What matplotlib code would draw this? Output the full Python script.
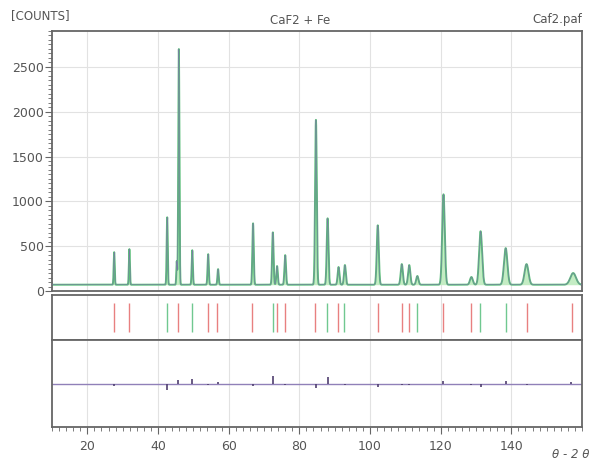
import numpy as np
import matplotlib
matplotlib.use("Agg")
import matplotlib.pyplot as plt
from matplotlib.ticker import MultipleLocator

peak_pos = [27.6, 31.9, 42.6, 45.3, 45.9, 49.7, 54.2, 57.0, 66.9, 72.5, 73.7, 76.0,
            84.7, 88.0, 91.1, 92.9, 102.2, 109.0, 111.1, 113.4, 120.8, 128.7,
            131.3, 138.4, 144.3, 157.5]
peak_counts = [433, 467, 822, 330, 2700, 455, 411, 244, 755, 655, 278, 400,
               1911, 811, 267, 289, 733, 300, 289, 167, 1078, 156,
               667, 478, 300, 200]
peak_width = [0.14, 0.14, 0.15, 0.12, 0.16, 0.16, 0.17, 0.17, 0.19, 0.2, 0.2, 0.21,
              0.23, 0.24, 0.25, 0.25, 0.28, 0.3, 0.31, 0.32, 0.36, 0.4,
              0.42, 0.48, 0.55, 0.8]
background = 70

# reflection markers
caf2_ticks = [27.5, 31.9, 45.7, 54.2, 56.8, 66.7, 73.8, 76.0, 84.5, 90.9, 102.2,
              109.0, 111.0, 120.8, 128.7, 144.3, 157.3]
fe_ticks = [42.6, 49.5, 72.6, 87.8, 92.6, 113.3, 131.0, 138.4]

# difference curve blips
diff_pos = [27.6, 42.6, 45.7, 49.7, 54.2, 57.0, 66.9, 72.5, 76.0, 84.7, 88.0,
            92.9, 102.2, 109.0, 111.1, 120.8, 128.7, 131.3, 138.4, 144.3, 157.0]
diff_val = [-6, -14, 8, 10, -4, 3, -5, 18, -3, -10, 14,
            -4, -8, -3, -3, 6, -4, -9, 5, -4, 4]

xticks = [20, 40, 60, 80, 100, 120, 140]

plt.rcParams['font.family'] = ['Liberation Sans Narrow', 'DejaVu Sans']
txt = '#555555'
frame = '#666666'

tt = np.linspace(10, 160, 6000)
calc = np.full_like(tt, background, dtype=float)
for p, h, w in zip(peak_pos, peak_counts, peak_width):
    calc += (h - background) * np.exp(-0.5 * ((tt - p) / w) ** 2)

fig = plt.figure(figsize=(6, 4.63), dpi=100)
W, H = 600, 463


def box(x0, y0, x1, y1):
    return [x0 / W, 1 - y1 / H, (x1 - x0) / W, (y1 - y0) / H]


ax = fig.add_axes(box(52, 31, 582, 291))
axt = fig.add_axes(box(52, 295, 582, 340))
axd = fig.add_axes(box(52, 340, 582, 427))

for a in (ax, axt, axd):
    a.set_xlim(10, 160)
    for s in a.spines.values():
        s.set_color(frame)
        s.set_linewidth(1.3)
    a.set_xticks(xticks)
    for x in xticks:
        a.axvline(x, color='#e2e2e2', lw=0.8, zorder=0)

# main pattern
ax.set_ylim(0, 2900)
for y in range(500, 2600, 500):
    ax.axhline(y, color='#e2e2e2', lw=0.8, zorder=0)
ax.fill_between(tt, background, calc, color='#c4ecc4', lw=0, zorder=1)
ax.plot(tt, calc, color='#5cbf7a', lw=1.4, zorder=2)
ax.plot(tt, calc, color='#7a7aa6', lw=0.4, zorder=3)
ax.set_yticks(range(0, 2600, 500))
ax.yaxis.set_minor_locator(MultipleLocator(50))
ax.tick_params(axis='y', which='major', length=5, color=frame, labelcolor=txt, labelsize=9, pad=1)
ax.tick_params(axis='y', which='minor', length=3, color=frame)
ax.tick_params(axis='x', which='both', bottom=False, labelbottom=False)

# reflection marker panel
axt.set_ylim(0, 1)
axt.vlines(caf2_ticks, 0.18, 0.82, color='#e88080', lw=1)
axt.vlines(fe_ticks, 0.18, 0.82, color='#70c890', lw=1)
axt.set_yticks([])
axt.tick_params(axis='x', which='both', bottom=False, labelbottom=False)

# difference panel
axd.set_ylim(-100, 100)
axd.axhline(0, color='#9080b8', lw=1, zorder=1)
axd.vlines(diff_pos, 0, diff_val, color='#504070', lw=1.2, zorder=2)
axd.set_yticks([])
axd.xaxis.set_minor_locator(MultipleLocator(2))
axd.tick_params(axis='x', which='major', length=5, color=frame, labelcolor=txt, labelsize=9, pad=4)
axd.tick_params(axis='x', which='minor', length=3, color=frame)

fig.text(11 / W, 1 - 16 / H, '[COUNTS]', color=txt, fontsize=8.5, va='center', ha='left')
fig.text(300 / W, 1 - 20 / H, 'CaF2 + Fe', color=txt, fontsize=8.5, va='center', ha='center')
fig.text(582 / W, 1 - 20 / H, 'Caf2.paf', color=txt, fontsize=8.5, va='center', ha='right')
fig.text(590 / W, 1 - 455 / H, 'θ - 2 θ', color=txt, fontsize=8.5, va='center', ha='right', style='italic')

fig.savefig('out.png', dpi=100)
